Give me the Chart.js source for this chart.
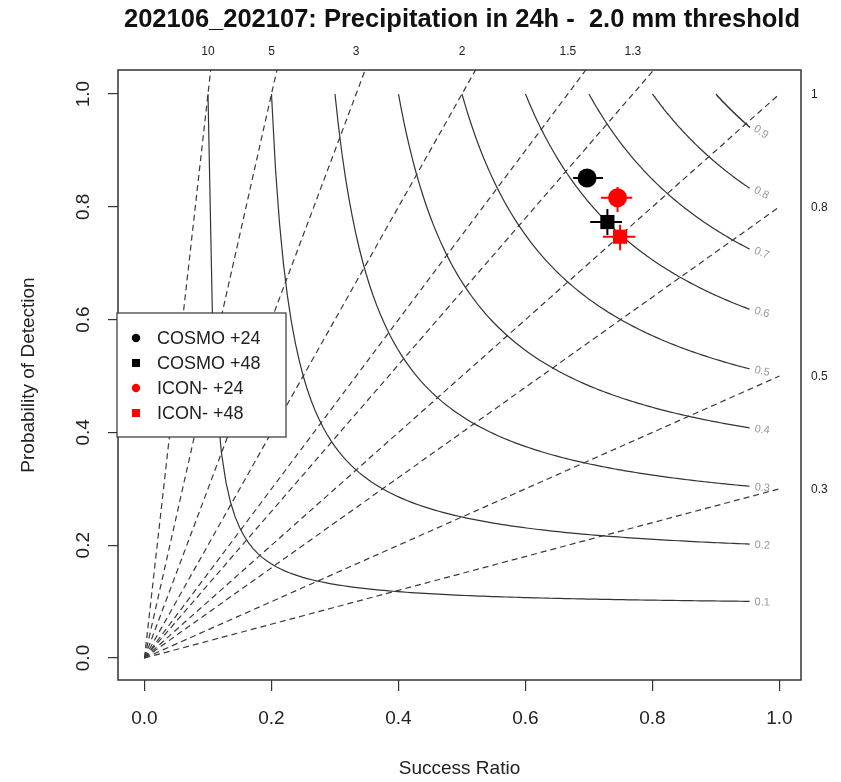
<!DOCTYPE html>
<html><head><meta charset="utf-8">
<script src="https://cdn.jsdelivr.net/npm/chart.js@4.4.0/dist/chart.umd.min.js"></script>
<style>html,body{margin:0;padding:0;background:#fff}canvas{display:block}</style>
</head><body>
<canvas id="c" width="841" height="782"></canvas>
<script>
// ---- data ----
const titleText = '202106_202107: Precipitation in 24h -  2.0 mm threshold';
const xTitle = 'Success Ratio';
const yTitle = 'Probability of Detection';
const seriesLabels = ['COSMO +24', 'COSMO +48', 'ICON- +24', 'ICON- +48'];
const seriesColors = ['#000000', '#000000', '#ff0000', '#ff0000'];
const seriesStyles = ['circle', 'rect', 'circle', 'rect'];
const successRatio = [0.697, 0.729, 0.745, 0.749];
const probDetection = [0.851, 0.773, 0.816, 0.747];
const srLow  = [0.675, 0.702, 0.719, 0.722];
const srHigh = [0.722, 0.752, 0.768, 0.773];
const podLow  = [0.835, 0.750, 0.791, 0.723];
const podHigh = [0.866, 0.796, 0.835, 0.768];
const biasValues = [0.3, 0.5, 0.8, 1, 1.3, 1.5, 2, 3, 5, 10];
const biasLabels = ['0.3', '0.5', '0.8', '1', '1.3', '1.5', '2', '3', '5', '10'];
const csiValues = [0.1, 0.2, 0.3, 0.4, 0.5, 0.6, 0.7, 0.8, 0.9];
const csiLabels = ['0.1', '0.2', '0.3', '0.4', '0.5', '0.6', '0.7', '0.8', '0.9'];
const xTicks = [0.0, 0.2, 0.4, 0.6, 0.8, 1.0];
const yTicks = [0.0, 0.2, 0.4, 0.6, 0.8, 1.0];

const X_MIN = -0.0417, X_MAX = 1.0339, Y_MIN = -0.039, Y_MAX = 1.0426;
const SR_END = 0.953;
const FONT = '"Liberation Sans", Arial, Helvetica, sans-serif';

const datasets = [];
// points
seriesLabels.forEach((lab, i) => {
  datasets.push({
    type: 'scatter', label: lab, order: 0,
    data: [{x: successRatio[i], y: probDetection[i]}],
    pointStyle: seriesStyles[i], pointRadius: seriesStyles[i] === 'rect' ? 10 : 9.5,
    backgroundColor: seriesColors[i], borderColor: seriesColors[i], borderWidth: 0
  });
});
// error bars
seriesLabels.forEach((lab, i) => {
  datasets.push({
    type: 'line', label: lab + ' err', order: 1, spanGaps: false,
    data: [{x: srLow[i], y: probDetection[i]}, {x: srHigh[i], y: probDetection[i]},
           {x: successRatio[i], y: null},
           {x: successRatio[i], y: podLow[i]}, {x: successRatio[i], y: podHigh[i]}],
    borderColor: seriesColors[i], borderWidth: 2, pointRadius: 0, tension: 0
  });
});
// CSI isolines (from the CSI definition)
csiValues.forEach((c) => {
  const pts = [];
  const n = 120;
  for (let k = 0; k <= n; k++) {
    const sr = c + (SR_END - c) * k / n;
    pts.push({x: sr, y: 1 / (1 / c + 1 - 1 / sr)});
  }
  datasets.push({type: 'line', label: 'csi', order: 2, data: pts,
    borderColor: '#333333', borderWidth: 1.2, pointRadius: 0, tension: 0});
});
// bias lines
biasValues.forEach((b) => {
  const end = b <= 1 ? {x: 1, y: b} : {x: Y_MAX / b, y: Y_MAX};
  datasets.push({type: 'line', label: 'bias', order: 3, data: [{x: 0, y: 0}, end],
    borderColor: '#3a3a3a', borderWidth: 1.2, borderDash: [6, 4], pointRadius: 0, tension: 0});
});

const decor = {
  id: 'decor',
  afterDatasetsDraw(chart) {
    const {ctx, chartArea: a, scales: {x, y}} = chart;
    ctx.save();
    // box
    ctx.strokeStyle = '#333';
    ctx.lineWidth = 1.5;
    ctx.strokeRect(a.left, a.top, a.right - a.left, a.bottom - a.top);
    // y tick labels (rotated, R style)
    ctx.fillStyle = '#222';
    ctx.font = '19px ' + FONT;
    ctx.textAlign = 'center';
    ctx.textBaseline = 'middle';
    yTicks.forEach(v => {
      ctx.save();
      ctx.translate(84, y.getPixelForValue(v));
      ctx.rotate(-Math.PI / 2);
      ctx.fillText(v.toFixed(1), 0, 0);
      ctx.restore();
    });
    // bias labels
    ctx.font = '12px ' + FONT;
    biasValues.forEach((b, i) => {
      if (b > 1) {
        ctx.textAlign = 'center';
        ctx.fillText(biasLabels[i], x.getPixelForValue(1 / b), 52);
      } else {
        ctx.textAlign = 'left';
        ctx.fillText(biasLabels[i], 811, y.getPixelForValue(b) + 1);
      }
    });
    // CSI labels
    ctx.fillStyle = '#999';
    ctx.font = '11px ' + FONT;
    ctx.textAlign = 'left';
    csiValues.forEach((c, i) => {
      const pod = 1 / (1 / c + 1 - 1 / SR_END);
      const px = x.getPixelForValue(SR_END), py = y.getPixelForValue(pod);
      const slopeData = (pod * pod) / (SR_END * SR_END);
      const pxPerX = x.getPixelForValue(1) - x.getPixelForValue(0);
      const pxPerY = y.getPixelForValue(0) - y.getPixelForValue(1);
      const ang = Math.atan(slopeData * pxPerY / pxPerX) * 0.82;
      ctx.save();
      ctx.translate(px + 5, py + 1);
      ctx.rotate(ang);
      ctx.fillText(csiLabels[i], 0, 0);
      ctx.restore();
    });
    // legend
    const lx = 117, ly = 313, lw = 169, lh = 124;
    ctx.fillStyle = '#fff';
    ctx.fillRect(lx, ly, lw, lh);
    ctx.strokeStyle = '#333';
    ctx.lineWidth = 1.2;
    ctx.strokeRect(lx, ly, lw, lh);
    ctx.font = '18px ' + FONT;
    ctx.textAlign = 'left';
    ctx.textBaseline = 'middle';
    seriesLabels.forEach((lab, i) => {
      const ry = ly + 25 + i * 25;
      ctx.fillStyle = seriesColors[i];
      if (seriesStyles[i] === 'circle') {
        ctx.beginPath(); ctx.arc(136, ry, 4.2, 0, Math.PI * 2); ctx.fill();
      } else {
        ctx.fillRect(132, ry - 4, 8, 8);
      }
      ctx.fillStyle = '#222';
      ctx.fillText(lab, 157, ry + 1);
    });
    // title
    ctx.fillStyle = '#111';
    ctx.font = 'bold 25.5px ' + FONT;
    ctx.textAlign = 'center';
    ctx.fillText(titleText, 462, 20);
    ctx.restore();
  }
};

new Chart(document.getElementById('c'), {
  data: {datasets},
  options: {
    responsive: false, animation: false, devicePixelRatio: 1,
    layout: {padding: {top: 70, right: 40, bottom: 0, left: 0}},
    plugins: {legend: {display: false}, tooltip: {enabled: false}},
    scales: {
      x: {
        type: 'linear', min: X_MIN, max: X_MAX,
        afterFit: s => { s.height = 102; },
        afterBuildTicks: s => { s.ticks = xTicks.map(v => ({value: v})); },
        grid: {display: true, drawOnChartArea: false, drawTicks: true, tickLength: 11, color: '#333', lineWidth: 1.2},
        border: {display: false},
        ticks: {padding: 16.6, color: '#222', font: {size: 19, family: FONT}, callback: v => Number(v).toFixed(1)},
        title: {display: true, text: xTitle, color: '#222', font: {size: 19, family: FONT}, padding: {bottom: 1.6, top: 0}}
      },
      y: {
        type: 'linear', min: Y_MIN, max: Y_MAX,
        afterFit: s => { s.width = 118; },
        afterBuildTicks: s => { s.ticks = yTicks.map(v => ({value: v})); },
        grid: {display: true, drawOnChartArea: false, drawTicks: true, tickLength: 10, color: '#333', lineWidth: 1.2},
        border: {display: false},
        ticks: {display: false},
        title: {display: true, text: yTitle, color: '#222', font: {size: 19, family: FONT}, padding: {top: 17.6, bottom: 0}}
      }
    }
  },
  plugins: [decor]
});
</script>
</body></html>
